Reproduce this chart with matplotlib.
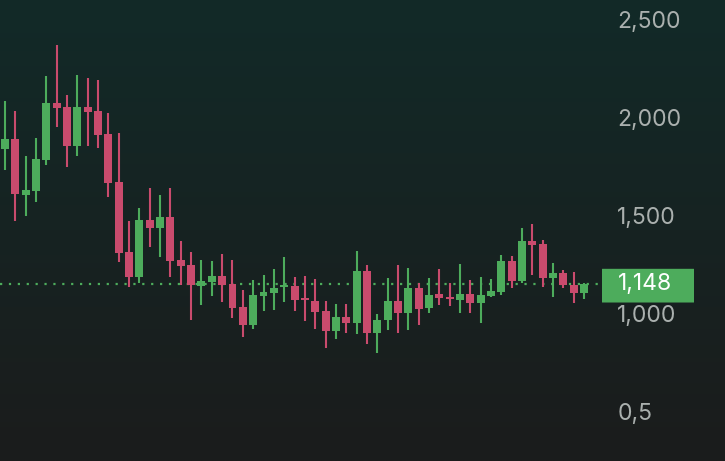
import numpy as np
import matplotlib
matplotlib.use("Agg")
import matplotlib.pyplot as plt
import matplotlib.transforms as mtransforms
from matplotlib.patches import FancyBboxPatch

# OHLC values
opens = [1839, 1890, 1605, 1625, 1783, 2074, 2054, 1855, 2054, 2033,
         1916, 1671, 1314, 1186, 1477, 1436, 1492, 1273, 1247, 1140,
         1161, 1191, 1151, 1033, 941, 1090, 1105, 1135, 1140, 1079,
         1064, 1013, 911, 982, 951, 1217, 900, 967, 1064, 1003,
         1130, 1028, 1100, 1084, 1069, 1100, 1054, 1090, 1110, 1268,
         1166, 1370, 1355, 1181, 1207, 1145, 1105]
highs = [2084, 2033, 1804, 1895, 2212, 2370, 2115, 2217, 2202, 2191,
         2023, 1921, 1472, 1538, 1640, 1605, 1640, 1370, 1314, 1273,
         1268, 1304, 1273, 1120, 1171, 1196, 1227, 1288, 1186, 1191,
         1176, 1064, 1049, 1049, 1319, 1247, 998, 1181, 1247, 1232,
         1156, 1181, 1227, 1156, 1253, 1171, 1186, 1176, 1298, 1293,
         1436, 1456, 1375, 1258, 1222, 1212, 1156]
lows = [1732, 1472, 1497, 1569, 1758, 1952, 1747, 1804, 1855, 1844,
        1594, 1263, 1135, 1156, 1339, 1288, 1186, 1145, 967, 1044,
        1090, 1059, 977, 880, 921, 1013, 1018, 1059, 1013, 962,
        921, 824, 870, 900, 895, 845, 798, 916, 900, 916,
        941, 1003, 1044, 1038, 1003, 1003, 951, 1084, 1095, 1130,
        1156, 1196, 1135, 1084, 1130, 1054, 1074]
closes = [1890, 1610, 1630, 1788, 2074, 2048, 1855, 2054, 2028, 1911,
          1666, 1309, 1186, 1477, 1436, 1492, 1268, 1242, 1145, 1166,
          1191, 1145, 1028, 941, 1095, 1110, 1130, 1145, 1069, 1069,
          1008, 911, 982, 951, 1217, 900, 967, 1064, 1003, 1130,
          1023, 1095, 1079, 1074, 1100, 1054, 1095, 1115, 1268, 1166,
          1370, 1350, 1181, 1207, 1145, 1105, 1148]

tick_values = [500, 1000, 1500, 2000, 2500]
tick_labels = ["0,5", "1,000", "1,500", "2,000", "2,500"]
last_price = 1148
last_label = "1,148"

GREEN = "#4dac5c"
RED = "#c94b6d"

fig = plt.figure(figsize=(7.25, 4.61), dpi=100)

# background gradient
bg = fig.add_axes([0, 0, 1, 1])
top = np.array([0x12, 0x2a, 0x28]) / 255
bottom = np.array([0x1b, 0x1c, 0x1c]) / 255
t = np.linspace(0, 1, 256)[:, None]
grad = top * (1 - t) + bottom * t
bg.imshow(grad[:, None, :].repeat(2, axis=1), aspect="auto", extent=[0, 1, 0, 1])
bg.axis("off")

ax = fig.add_axes([0, 0, 600 / 725, 1])
ax.patch.set_alpha(0)

x = np.arange(len(opens))
o = np.array(opens)
c = np.array(closes)
h = np.array(highs)
l = np.array(lows)
colors = [GREEN if cc >= oo else RED for oo, cc in zip(o, c)]

ax.vlines(x, l, h, colors=colors, linewidth=1.5, zorder=2)
body_bottom = np.minimum(o, c)
body_h = np.maximum(np.abs(c - o), 10)
ax.bar(x, body_h, bottom=body_bottom, width=0.77, color=colors, zorder=3)

# last price dotted line
ax.axhline(last_price, xmin=0, xmax=598 / 600, color=GREEN, linestyle=(0, (1, 3)),
           linewidth=1.6, zorder=1)

ax.set_xlim(-0.4836, 57.54)
ax.set_ylim(247.4, 2599.5)

ax.yaxis.tick_right()
ax.set_yticks(tick_values)
ax.set_yticklabels(tick_labels)
ax.tick_params(axis="y", length=0, pad=12.5, labelsize=16.5, labelcolor="#aab0ae")
for lab in ax.get_yticklabels():
    lab.set_fontfamily("Inter")
ax.set_xticks([])
for s in ax.spines.values():
    s.set_visible(False)

# last price label box
trans = mtransforms.blended_transform_factory(ax.transAxes, ax.transData)
box = FancyBboxPatch((602 / 600, last_price - 92), 92 / 600, 172,
                     boxstyle="round,pad=0,rounding_size=0.006", transform=trans,
                     facecolor=GREEN, edgecolor="none", clip_on=False, zorder=5,
                     mutation_aspect=28)
ax.add_patch(box)
ax.text(618 / 600, last_price, last_label, transform=trans, ha="left", va="center",
        color="white", fontsize=16.5, fontfamily="Inter", zorder=6, clip_on=False)

fig.savefig("out.png", dpi=100)
